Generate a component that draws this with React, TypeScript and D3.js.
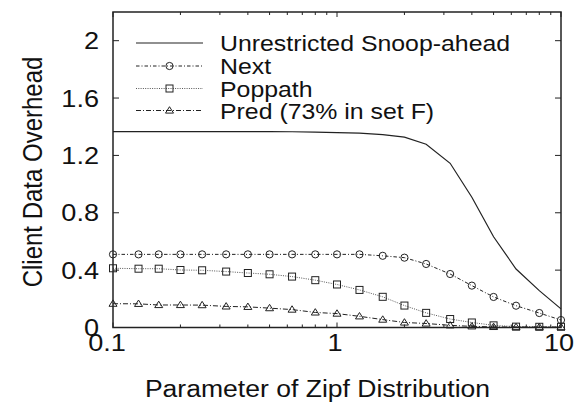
import React from "react";
import * as d3 from "d3";

const zipfParams = [0.1, 0.13, 0.16, 0.2, 0.25, 0.32, 0.4, 0.5, 0.63, 0.8, 1, 1.26, 1.6, 2, 2.5, 3.2, 4, 5, 6.3, 8, 10];
const unrestricted = [1.366, 1.366, 1.366, 1.366, 1.366, 1.366, 1.366, 1.366, 1.365, 1.363, 1.359, 1.356, 1.345, 1.327, 1.278, 1.145, 0.908, 0.633, 0.408, 0.257, 0.13];
const nextVals = [0.51, 0.51, 0.51, 0.51, 0.51, 0.51, 0.51, 0.51, 0.51, 0.51, 0.51, 0.51, 0.5, 0.487, 0.443, 0.373, 0.292, 0.213, 0.152, 0.101, 0.052];
const poppath = [0.413, 0.41, 0.41, 0.401, 0.399, 0.39, 0.38, 0.371, 0.355, 0.33, 0.3, 0.262, 0.214, 0.153, 0.102, 0.059, 0.035, 0.015, 0.006, 0.005, 0.005];
const pred = [0.166, 0.165, 0.157, 0.157, 0.156, 0.147, 0.144, 0.135, 0.125, 0.105, 0.097, 0.078, 0.055, 0.035, 0.028, 0.015, 0.008, 0.004, 0.003, 0.003, 0.003];

const yTicks = [0, 0.4, 0.8, 1.2, 1.6, 2];
const yTickLabels = ["0", "0.4", "0.8", "1.2", "1.6", "2"];
const xMajor = [0.1, 1, 10];
const xMajorLabels = ["0.1", "1", "10"];
const legendLabels = ["Unrestricted Snoop-ahead", "Next", "Poppath", "Pred (73% in set F)"];

const FONT = "'Liberation Sans', Arial, Helvetica, sans-serif";
const SX = 1.13;
const INK = "#222";

type Marker = "none" | "circle" | "square" | "triangle";

function MarkerShape({ kind, x, y }: { kind: Marker; x: number; y: number }) {
  if (kind === "circle") return <circle cx={x} cy={y} r={3.6} fill="none" stroke={INK} strokeWidth={1} />;
  if (kind === "square") return <rect x={x - 3.5} y={y - 3.5} width={7} height={7} fill="none" stroke={INK} strokeWidth={1} />;
  if (kind === "triangle") {
    const p = `${x},${y - 3.8} ${x - 4},${y + 2.6} ${x + 4},${y + 2.6}`;
    return <polygon points={p} fill="none" stroke={INK} strokeWidth={1} />;
  }
  return null;
}

export default function App() {
  const W = 580, H = 406;
  const left = 113, right = 561, top = 12, bottom = 327.5;
  const x = d3.scaleLog().domain([0.1, 10]).range([left, right]);
  const y = d3.scaleLinear().domain([0, 2.2]).range([bottom, top]);

  const series: { vals: number[]; dash: string; marker: Marker; width: number; color: string }[] = [
    { vals: unrestricted, dash: "none", marker: "none", width: 1.2, color: INK },
    { vals: nextVals, dash: "3.5,2,1,2", marker: "circle", width: 1, color: INK },
    { vals: poppath, dash: "1,1.3", marker: "square", width: 0.9, color: "#444" },
    { vals: pred, dash: "5,2,1,2", marker: "triangle", width: 1, color: INK },
  ];

  const line = (vals: number[]) =>
    d3.line<number>().x((_, i) => x(zipfParams[i])).y((v) => y(v))(vals) || "";

  const minor: number[] = [];
  for (const base of [0.1, 1]) for (let k = 2; k <= 9; k++) minor.push(base * k);

  const legendRows = [43, 66, 88.5, 110.5];

  return (
    <svg width={W} height={H} style={{ position: "absolute", left: 0, top: 0, background: "#fff" }}>
      <rect x={0} y={0} width={W} height={H} fill="#fff" />
      {/* ticks */}
      {yTicks.map((t, i) => (
        <g key={"yt" + i}>
          <line x1={left} x2={left + 6} y1={y(t)} y2={y(t)} stroke={INK} strokeWidth={1} />
          <line x1={right} x2={right - 6} y1={y(t)} y2={y(t)} stroke={INK} strokeWidth={1} />
          <text transform={`translate(99,${y(t) + 8.5}) scale(${SX},1)`} textAnchor="end" fontFamily={FONT} fontSize={24} fill="#111">
            {yTickLabels[i]}
          </text>
        </g>
      ))}
      {xMajor.map((t, i) => (
        <g key={"xt" + i}>
          <line x1={x(t)} x2={x(t)} y1={bottom} y2={bottom - 5} stroke={INK} strokeWidth={1} />
          <line x1={x(t)} x2={x(t)} y1={top} y2={top + 5} stroke={INK} strokeWidth={1} />
          <text transform={`translate(${x(t) - (i === 0 ? 6 : 2)},351) scale(${SX},1)`} textAnchor="middle" fontFamily={FONT} fontSize={24} fill="#111">
            {xMajorLabels[i]}
          </text>
        </g>
      ))}
      {minor.map((t, i) => (
        <g key={"mt" + i}>
          <line x1={x(t)} x2={x(t)} y1={bottom} y2={bottom - 3} stroke={INK} strokeWidth={1} />
          <line x1={x(t)} x2={x(t)} y1={top} y2={top + 3} stroke={INK} strokeWidth={1} />
        </g>
      ))}
      {/* series */}
      {series.map((s, si) => (
        <g key={"s" + si}>
          <path d={line(s.vals)} fill="none" stroke={s.color} strokeWidth={s.width} strokeDasharray={s.dash} />
          {s.marker !== "none" &&
            s.vals.map((v, i) => <MarkerShape key={i} kind={s.marker} x={x(zipfParams[i])} y={y(v)} />)}
        </g>
      ))}
      {/* frame */}
      <rect x={left} y={top} width={right - left} height={bottom - top} fill="none" stroke={INK} strokeWidth={1.5} />
      {/* legend */}
      {series.map((s, si) => (
        <g key={"lg" + si}>
          <line x1={136} x2={203} y1={legendRows[si]} y2={legendRows[si]} stroke={s.color} strokeWidth={s.width} strokeDasharray={s.dash} />
          <MarkerShape kind={s.marker} x={169.5} y={legendRows[si]} />
          <text transform={`translate(220,${legendRows[si] + 8}) scale(${SX},1)`} fontFamily={FONT} fontSize={22} fill="#111">
            {legendLabels[si]}
          </text>
        </g>
      ))}
      {/* axis titles */}
      <text transform={`translate(317.5,397) scale(${SX},1)`} textAnchor="middle" fontFamily={FONT} fontSize={23.5} fill="#111">
        Parameter of Zipf Distribution
      </text>
      <text transform={`translate(42,172) scale(${SX},1) rotate(-90)`} textAnchor="middle" fontFamily={FONT} fontSize={24} fill="#111">
        Client Data Overhead
      </text>
    </svg>
  );
}
